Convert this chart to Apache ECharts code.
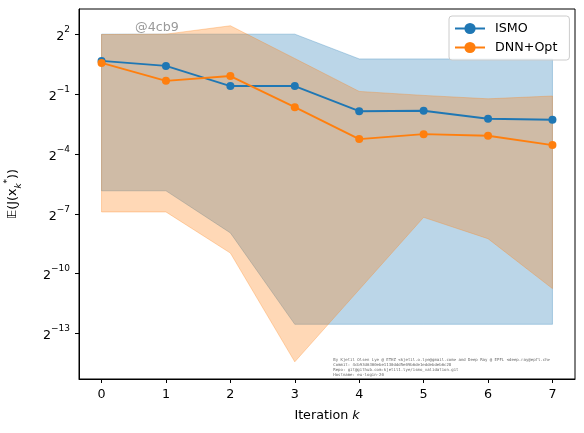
<!DOCTYPE html>
<html>
<head>
<meta charset="utf-8">
<script src="https://cdn.jsdelivr.net/npm/echarts@6/dist/echarts.min.js"></script>
<style>
  html, body { margin: 0; padding: 0; background: #fff; }
  #chart { width: 584px; height: 433px; }
</style>
</head>
<body>
<div id="chart"></div>
<script>
// iterations
var iterations = [0, 1, 2, 3, 4, 5, 6, 7];
// all values are log2 of E(J(x_k*))
var ismoMean = [0.66, 0.41, -0.60, -0.60, -1.86, -1.84, -2.24, -2.29];
var ismoLower = [-5.85, -5.85, -7.96, -12.54, -12.54, -12.54, -12.54, -12.54];
var ismoUpper = [2.0, 2.0, 2.0, 2.0, 0.76, 0.76, 0.76, 0.76];
var dnnMean = [0.56, -0.34, -0.10, -1.66, -3.26, -3.01, -3.09, -3.56];
var dnnLower = [-6.91, -6.91, -8.97, -14.42, -10.8, -7.18, -8.25, -10.75];
var dnnUpper = [1.98, 2.0, 2.42, 0.78, -0.87, -1.07, -1.24, -1.10];
// y tick exponents
var yTicks = [-13, -10, -7, -4, -1, 2];

var FONT = 'DejaVu Sans';
var BLUE = '#1f77b4';
var ORANGE = '#ff7f0e';

function pairs(ys) {
    return iterations.map(function (x, i) { return [x, ys[i]]; });
}

// fill_between: one polygon through upper points then lower points backwards
function band(name, lo, hi, rgb) {
    var rows = iterations.map(function (x, i) { return [x, lo[i], hi[i]]; });
    return {
        name: name,
        type: 'custom',
        data: rows,
        encode: { x: 0, y: [1, 2] },
        z: 1,
        silent: true,
        renderItem: function (params, api) {
            if (params.dataIndex !== 0) return;
            var pts = [];
            rows.forEach(function (r) { pts.push(api.coord([r[0], r[2]])); });
            for (var i = rows.length - 1; i >= 0; i--) pts.push(api.coord([rows[i][0], rows[i][1]]));
            return {
                type: 'polygon',
                shape: { points: pts },
                style: {
                    fill: 'rgba(' + rgb + ',0.3)',
                    stroke: 'rgba(' + rgb + ',0.3)',
                    lineWidth: 1
                }
            };
        }
    };
}

function meanLine(name, ys, color) {
    return {
        name: name,
        type: 'line',
        symbol: 'circle',
        symbolSize: 8,
        lineStyle: { color: color, width: 1.9 },
        itemStyle: { color: color },
        data: pairs(ys),
        z: 5
    };
}

var series = [
    band('ismoBand', ismoLower, ismoUpper, '31,119,180'),
    band('dnnBand', dnnLower, dnnUpper, '255,127,14'),
    meanLine('ISMO', ismoMean, BLUE),
    meanLine('DNN+Opt', dnnMean, ORANGE)
];

var chart = echarts.init(document.getElementById('chart'));
chart.setOption({
    animation: false,
    backgroundColor: '#fff',
    textStyle: { fontFamily: FONT },
    grid: {
        left: 79, top: 9, right: 9, bottom: 54,
        outerBoundsMode: 'none',
        containLabel: false,
        show: true, borderColor: '#000', borderWidth: 1
    },
    xAxis: {
        type: 'value',
        min: -0.35,
        max: 7.35,
        splitLine: { show: false },
        axisLine: { onZero: false, lineStyle: { color: '#000', width: 1 } },
        axisTick: { show: true, length: 4, lineStyle: { color: '#000' }, customValues: iterations },
        axisLabel: { color: '#000', fontSize: 12.7, fontFamily: FONT, margin: 9, customValues: iterations },
        name: 'Iteration {i|k}',
        nameLocation: 'middle',
        nameGap: 30,
        nameTextStyle: {
            color: '#000', fontSize: 12.7, fontFamily: FONT, verticalAlign: 'top',
            rich: { i: { fontStyle: 'italic', fontSize: 12.7, fontFamily: FONT, color: '#000' } }
        }
    },
    yAxis: {
        type: 'value',
        min: -15.28,
        max: 3.26,
        splitLine: { show: false },
        axisLine: { show: true, onZero: false, lineStyle: { color: '#000', width: 1 } },
        axisTick: { show: true, length: 4, lineStyle: { color: '#000' }, customValues: yTicks },
        axisLabel: {
            color: '#000',
            margin: 9,
            customValues: yTicks,
            formatter: function (v) {
                var s = v < 0 ? '\u2212' + (-v) : String(v);
                return '{b|2}{s|' + s + '}';
            },
            rich: {
                b: { fontSize: 12.7, fontFamily: FONT, color: '#000', verticalAlign: 'bottom', lineHeight: 18 },
                s: { fontSize: 9, fontFamily: FONT, color: '#000', verticalAlign: 'top', lineHeight: 18 }
            }
        },
        name: '{a|\uD835\uDD3C(J(x}{k|k}{s|*}{a|))}',
        nameLocation: 'middle',
        nameRotate: 90,
        nameGap: 56,
        nameTextStyle: {
            rich: {
                a: { fontSize: 12.7, fontFamily: FONT, color: '#000', verticalAlign: 'middle', lineHeight: 20 },
                k: { fontSize: 9, fontFamily: FONT, fontStyle: 'italic', color: '#000', verticalAlign: 'bottom', lineHeight: 20 },
                s: { fontSize: 9, fontFamily: FONT, color: '#000', verticalAlign: 'top', lineHeight: 20 }
            }
        }
    },
    legend: {
        data: ['ISMO', 'DNN+Opt'],
        orient: 'vertical',
        left: 449,
        top: 16,
        padding: [6, 12, 6, 5],
        itemWidth: 30,
        itemHeight: 14,
        itemGap: 6,
        backgroundColor: 'rgba(255,255,255,0.8)',
        borderColor: '#cccccc',
        borderWidth: 1,
        borderRadius: 3,
        textStyle: { color: '#000', fontSize: 12.7, fontFamily: FONT, padding: [0, 0, 0, 5] }
    },
    graphic: [{
        type: 'text',
        left: 135,
        top: 21,
        z: 10,
        style: { text: '@4cb9', fill: '#9a9a9a', font: '12.7px "DejaVu Sans"' }
    }, {
        type: 'text',
        right: 34,
        top: 357,
        z: 10,
        style: {
            text: 'By Kjetil Olsen Lye @ ETHZ <kjetil.o.lye@gmail.com> and Deep Ray @ EPFL <deep.ray@epfl.ch>\n' +
                'Commit: 4cb93d6300ebe1130ddd5e09b6de1eddebdeb6c28\n' +
                'Repo: git@github.com:kjetil1.lye/ismo_validation.git\n' +
                'Hostname: eu-login-20',
            align: 'right',
            fill: '#666',
            font: '4px "DejaVu Sans Mono"',
            lineHeight: 5
        }
    }],
    series: series
});
</script>
</body>
</html>
